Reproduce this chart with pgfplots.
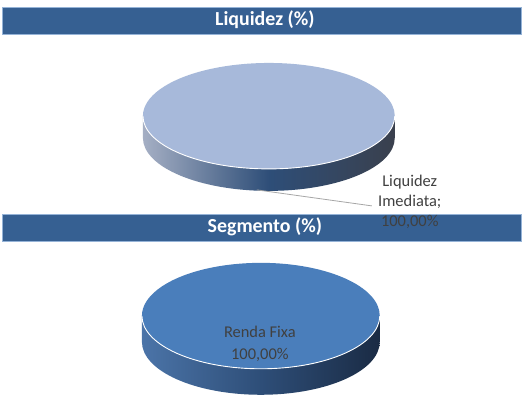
\documentclass[border=0pt]{standalone}
\usepackage{pgfplots}
\usepackage{pgfplotstable}
\usepackage{fontspec}
\setmainfont{Carlito}
\pgfplotsset{compat=1.18}
\definecolor{barblue}{RGB}{54,96,146}
\definecolor{baredge}{RGB}{149,179,215}
\definecolor{faceA}{RGB}{167,185,218}
\definecolor{sideAl}{RGB}{165,175,196}
\definecolor{sideAm}{RGB}{106,115,137}
\definecolor{sideAr}{RGB}{58,64,77}
\definecolor{faceB}{RGB}{74,126,187}
\definecolor{sideBl}{RGB}{75,116,168}
\definecolor{sideBm}{RGB}{46,78,120}
\definecolor{sideBr}{RGB}{26,43,68}
\definecolor{lbl}{RGB}{64,64,64}

% pie data: one table per chart
\pgfplotstableread{
label value
Liquidez_Imediata 100
}\liquidez
\pgfplotstableread{
label value
Renda_Fixa 100
}\segmento

% #1 table, #2 cx, #3 cy, #4 a, #5 b, #6 thickness, #7 face, #8-#10 side colours
\newcommand{\pie}[9]{%
  \pgfplotstablegetelem{0}{value}\of#1%
  \pgfmathsetmacro{\ang}{3.6*\pgfplotsretval}%
  % side
  \shade[left color=#8, right color=#9, middle color=sideMid]
    (axis cs:#2-#4,#3) -- (axis cs:#2-#4,#3-#6)
    arc[start angle=180, end angle=360, x radius=#4bp, y radius=#5bp]
    -- (axis cs:#2+#4,#3)
    arc[start angle=360, end angle=180, x radius=#4bp, y radius=#5bp] -- cycle;
  % slice (face)
  \fill[#7] (axis cs:#2,#3) -- ++(90:#4bp and #5bp)
    arc[start angle=90, end angle=90-\ang, x radius=#4bp, y radius=#5bp] -- cycle;
  % rim highlight
  \draw[white, line width=0.9pt] (axis cs:#2-#4,#3)
    arc[start angle=180, end angle=360, x radius=#4bp, y radius=#5bp];
}

\begin{document}
\begin{tikzpicture}
\begin{axis}[width=522bp, height=406bp, scale only axis,
  xmin=0, xmax=522, ymin=0, ymax=406,
  axis lines=none, ticks=none, clip=false]
\path[fill=white] (axis cs:0,0) rectangle (axis cs:522,406);

% title bar 1
\fill[barblue, draw=baredge, line width=0.6pt] (axis cs:2,372) rectangle (axis cs:522,399);
\node[text=white, font=\fontsize{20}{24}\selectfont\bfseries] at (axis cs:265,386) {Liquidez (\%)};

% pie 1
\colorlet{sideMid}{sideAm}
\pie{\liquidez}{269}{290}{126}{53}{22}{faceA}{sideAl}{sideAr}

% title bar 2
\fill[barblue, draw=baredge, line width=0.6pt] (axis cs:2,165) rectangle (axis cs:522,192);
\node[text=white, font=\fontsize{20}{24}\selectfont\bfseries] at (axis cs:265,179) {Segmento (\%)};

% leader + label 1
\draw[gray!70, line width=0.8pt] (axis cs:257,216) -- (axis cs:372,200);
\node[text=lbl, align=center, font=\fontsize{16.5}{20}\selectfont] at (axis cs:410,204) {Liquidez\\Imediata;\\100,00\%};

% pie 2
\colorlet{sideMid}{sideBm}
\pie{\segmento}{261}{90}{119}{53}{26}{faceB}{sideBl}{sideBr}
\node[text=lbl, align=center, font=\fontsize{16.5}{22}\selectfont] at (axis cs:260,62) {Renda Fixa\\100,00\%};
\end{axis}
\end{tikzpicture}
\end{document}
